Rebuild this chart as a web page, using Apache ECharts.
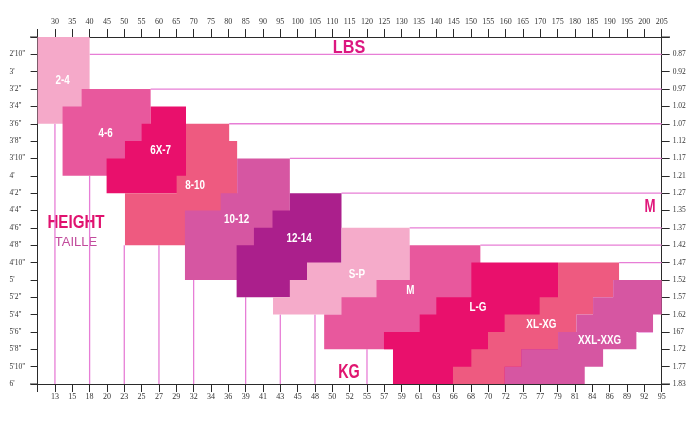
<!DOCTYPE html>
<html><head><meta charset="utf-8">
<script src="https://cdn.jsdelivr.net/npm/echarts@6/dist/echarts.min.js"></script>
<style>html,body{margin:0;padding:0;background:#fff}#c{width:700px;height:422px}</style>
</head><body><div id="c"></div>
<script>
// ---- tick labels ----
const lbsTicks = [30,35,40,45,50,55,60,65,70,75,80,85,90,95,100,105,110,115,120,125,130,135,140,145,150,155,160,165,170,175,180,185,190,195,200,205];
const kgTicks = [13,15,18,20,23,25,27,29,32,34,36,39,41,43,45,48,50,52,55,57,59,61,63,66,68,70,72,75,77,79,81,84,86,89,92,95];
const heightValues = [34,36,38,40,42,44,46,48,50,52,54,56,58,60,62,64,66,68,70,72];
const heightTicks = ["2'10\"","3'","3'2\"","3'4\"","3'6\"","3'8\"","3'10\"","4'","4'2\"","4'4\"","4'6\"","4'8\"","4'10\"","5'","5'2\"","5'4\"","5'6\"","5'8\"","5'10\"","6'"];
const meterTicks = ["0.87","0.92","0.97","1.02","1.07","1.12","1.17","1.21","1.27","1.35","1.37","1.42","1.47","1.52","1.57","1.62","167","1.72","1.77","1.83"];

// ---- size zones: corners as [lbs, inches] ----
const sizeNames = ['2-4','4-6','6X-7','8-10','10-12','12-14','S-P','M','L-G','XL-XG','XXL-XXG'];
const zone2_4  = [[25,32],[40,32],[40,42],[25,42]];
const zone4_6  = [[37.7,38],[57.6,38],[57.6,48],[32.2,48],[32.2,40],[37.7,40]];
const zone6X_7 = [[57.6,40],[67.8,40],[67.8,50],[44.9,50],[44.9,46],[50.2,46],[50.2,44],[55,44],[55,42],[57.6,42]];
const zone8_10 = [[67.8,42],[80.25,42],[80.25,44],[82.55,44],[82.55,56],[50.2,56],[50.2,50],[65.1,50],[65.1,48],[67.8,48]];
const zone10_12 = [[82.55,46],[97.75,46],[97.75,60],[67.5,60],[67.5,52],[77.8,52],[77.8,50],[82.55,50]];
const zone12_14 = [[97.75,50],[112.65,50],[112.65,62],[82.4,62],[82.4,56],[87.4,56],[87.4,54],[92.75,54],[92.75,52],[97.75,52]];
const zoneSP = [[112.65,54],[132.3,54],[132.3,64],[92.9,64],[92.9,62],[97.75,62],[97.75,60],[102.7,60],[102.7,58],[112.65,58]];
const zoneM = [[132.3,56],[152.7,56],[152.7,68],[107.65,68],[107.65,64],[112.65,64],[112.65,62],[122.75,62],[122.75,60],[132.3,60]];
const zoneLG = [[150.1,58],[175.1,58],[175.1,72],[127.5,72],[127.5,68],[124.9,68],[124.9,66],[135.2,66],[135.2,64],[140,64],[140,62],[150.1,62]];
const zoneXL = [[175.1,58],[192.7,58],[192.7,60],[191,60],[191,62],[185.2,62],[185.2,64],[180.4,64],[180.4,66],[175.1,66],[175.1,68],[164.5,68],[164.5,70],[159.7,70],[159.7,72],[144.8,72],[144.8,70],[150.1,70],[150.1,68],[154.9,68],[154.9,66],[159.7,66],[159.7,64],[169.8,64],[169.8,62],[175.1,62]];
const zoneXXL = [[191,60],[205,60],[205,64],[202.5,64],[202.5,66],[197.7,66],[197.7,68],[188.1,68],[188.1,70],[182.8,70],[182.8,72],[159.7,72],[159.7,70],[164.5,70],[164.5,68],[175.1,68],[175.1,66],[180.4,66],[180.4,64],[185.2,64],[185.2,62],[191,62]];
const zones = [zone2_4, zone4_6, zone6X_7, zone8_10, zone10_12, zone12_14, zoneSP, zoneM, zoneLG, zoneXL, zoneXXL];
// label anchors [lbs, inches]
const labelLbs = [32.2, 44.6, 60.5, 70.4, 82.4, 100.4, 117.1, 132.5, 152.0, 170.3, 187.1];
const labelIn  = [37.0, 43.1, 45.1, 49.1, 53.1, 55.2, 59.4, 61.3, 63.2, 65.2, 67.0];

// reference lines: horizontal [inches, fromLbs, toLbs], vertical [lbs, fromInches, toInches]
const refH = [[34,40,205],[38,57.6,205],[42,80.25,205],[46,97.75,205],[50,112.65,205],[54,132.3,205],[56,152.7,205],[58,192.7,205],[66,198.2,202.5]];
const refV = [[30,42,72],[40,48,72],[50,56,72],[60,56,72],[70,60,72],[85,62,72],[95,64,72],[105,64,72],[120,68,72]];

// ---- styles ----
const zoneColors = ['#f5a9c9','#e8589d','#e9106c','#ee5a80','#d656a2','#ab1f8c','#f5abca','#e8589d','#e9106c','#ee5a80','#d656a2'];
const refColor = '#e77ed6';
const axisColor = '#2a2a2a';
const tickFont = 'Liberation Serif';
const labelFont = "'Liberation Sans','DejaVu Sans',sans-serif";

const chart = echarts.init(document.getElementById('c'), null, {renderer:'canvas'});

const xCommon = {
  type:'value', min:25, max:205, interval:5,
  axisLine:{show:true, onZero:false, lineStyle:{color:axisColor, width:1}},
  axisTick:{show:true, length:8, lineStyle:{color:axisColor, width:1}},
  splitLine:{show:false}
};
const yCommon = {
  type:'value', min:32, max:72, interval:2, inverse:true,
  axisLine:{show:true, onZero:false, lineStyle:{color:axisColor, width:1}},
  axisTick:{show:true, length:7, lineStyle:{color:axisColor, width:1}},
  splitLine:{show:false}
};

function bigText(txt, x, y, color, font, sx) {
  return {type:'text', x:x, y:y, scaleX:sx, style:{text:txt, fill:color, font:font, align:'center', verticalAlign:'middle'}};
}

const option = {
  animation:false,
  backgroundColor:'#fff',
  grid:{left:37.6, right:38.3, top:37, bottom:38},
  xAxis:[
    Object.assign({}, xCommon, {position:'top',
      axisLabel:{margin:11, fontFamily:tickFont, fontSize:8, color:'#333', showMinLabel:true, showMaxLabel:true,
        formatter:v=>lbsTicks.includes(v)?String(v):''}}),
    Object.assign({}, xCommon, {position:'bottom',
      axisLabel:{margin:9, fontFamily:tickFont, fontSize:8, color:'#333', showMinLabel:true, showMaxLabel:true,
        formatter:v=>{const k=lbsTicks.indexOf(v);return k>=0?String(kgTicks[k]):'';}}})
  ],
  yAxis:[
    Object.assign({}, yCommon, {position:'left',
      axisLabel:{margin:28, align:'left', fontFamily:tickFont, fontSize:7.5, color:'#333', showMinLabel:true, showMaxLabel:true,
        formatter:v=>{const k=heightValues.indexOf(v);return k>=0?heightTicks[k]:'';}}}),
    Object.assign({}, yCommon, {position:'right', axisTick:{show:true, length:8, lineStyle:{color:axisColor}},
      axisLabel:{margin:11, align:'left', fontFamily:tickFont, fontSize:7.5, color:'#333', showMinLabel:true, showMaxLabel:true,
        formatter:v=>{const k=heightValues.indexOf(v);return k>=0?meterTicks[k]:'';}}})
  ],
  series:[
    { // reference lines
      type:'custom', xAxisIndex:0, yAxisIndex:0, silent:true, z:1,
      data: refH.map(r=>[r[1], r[0]]).concat(refV.map(r=>[r[0], r[1]])),
      encode:{x:0, y:1},
      renderItem:(params, api)=>{
        const i = params.dataIndex;
        let a, b;
        if (i < refH.length) { const r = refH[i]; a = api.coord([r[1], r[0]]); b = api.coord([r[2], r[0]]); }
        else { const r = refV[i - refH.length]; a = api.coord([r[0], r[1]]); b = api.coord([r[0], r[2]]); }
        return {type:'line', shape:{x1:a[0], y1:a[1], x2:b[0], y2:b[1]}, style:{stroke:refColor, lineWidth:1.3}};
      }
    },
    { // zones
      type:'custom', xAxisIndex:0, yAxisIndex:0, silent:true, z:2,
      data: zones.map((z,i)=>[z[0][0], z[0][1], i]),
      encode:{x:0, y:1},
      renderItem:(params, api)=>{
        const i = params.dataIndex;
        const pts = zones[i].map(p=>api.coord(p));
        return {type:'polygon', z2:i, shape:{points:pts}, style:{fill:zoneColors[i]}};
      }
    },
    { // zone labels
      type:'custom', xAxisIndex:0, yAxisIndex:0, silent:true, z:3,
      data: labelLbs.map((x,i)=>[x, labelIn[i]]),
      encode:{x:0, y:1},
      renderItem:(params, api)=>{
        const i = params.dataIndex;
        const p = api.coord([labelLbs[i], labelIn[i]]);
        return {type:'text', x:p[0], y:p[1], scaleX:0.82, style:{text:sizeNames[i], fill:'#fff', font:"bold 12px "+labelFont, align:'center', verticalAlign:'middle'}};
      }
    }
  ],
  graphic:[
    {type:'line', shape:{x1:30, y1:37, x2:38, y2:37}, style:{stroke:axisColor, lineWidth:1}},
    {type:'line', shape:{x1:661, y1:37, x2:670, y2:37}, style:{stroke:axisColor, lineWidth:1}},
    {type:'line', shape:{x1:30, y1:384, x2:38, y2:384}, style:{stroke:axisColor, lineWidth:1}},
    {type:'line', shape:{x1:661, y1:384, x2:670, y2:384}, style:{stroke:axisColor, lineWidth:1}},
    bigText('LBS', 349, 48, '#dc1780', "bold 18px "+labelFont, 0.9),
    bigText('KG', 349, 372, '#e0146f', "bold 20px "+labelFont, 0.72),
    bigText('M', 650, 207, '#e0167a', "bold 19px "+labelFont, 0.7),
    bigText('HEIGHT', 76, 223, '#e0126f', "bold 18px "+labelFont, 0.84),
    bigText('TAILLE', 76, 242, '#c14b9c', "13px "+labelFont, 1)
  ]
};
chart.setOption(option);
</script>
</body></html>
